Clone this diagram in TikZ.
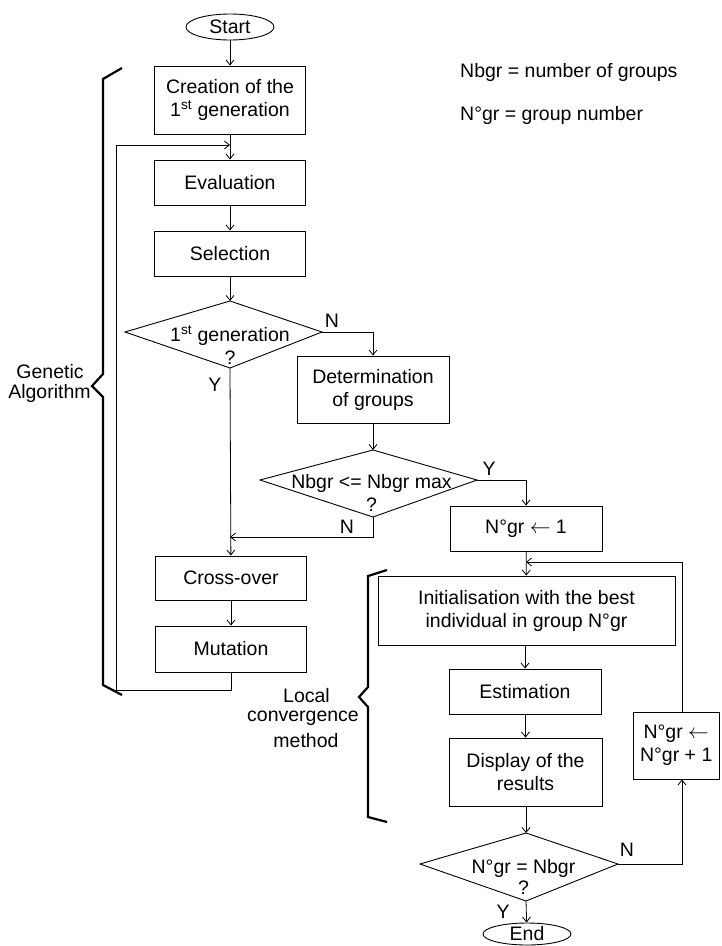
\documentclass[tikz,border=0pt]{standalone}
\usepackage{fontspec}
\setmainfont{Liberation Sans}
\usetikzlibrary{arrows.meta,shapes.geometric}
\newcommand{\larr}{\ensuremath{\leftarrow}}
\begin{document}
\begin{tikzpicture}[x=1pt,y=-1pt,
  font=\fontsize{19.5}{23}\selectfont,
  box/.style={draw,line width=0.9pt,rectangle,inner sep=0pt,align=center},
  term/.style={draw,line width=0.9pt,ellipse,inner sep=0pt,minimum width=88pt,minimum height=26pt},
  lbl/.style={inner sep=0pt,align=center},
  conn/.style={line width=0.8pt},
  arr/.style={line width=0.8pt,-{Straight Barb[length=5pt,width=8pt]}},
  brace/.style={line width=2.2pt,line join=miter}]
\useasboundingbox (0,0) rectangle (721,946);

% terminals
\node[term] (start) at (230,27) {Start};
\node[term,minimum height=22pt] (end) at (527,934) {End};

% column 1
\node[box,minimum width=151pt,minimum height=68pt] (create) at (230,100) {Creation of the\\1\textsuperscript{st} generation};
\node[box,minimum width=151pt,minimum height=45pt] (eval) at (230,182.5) {Evaluation};
\node[box,minimum width=151pt,minimum height=45pt] (sel) at (230,253.5) {Selection};
\node[box,minimum width=151pt,minimum height=44pt] (cross) at (231,578) {Cross-over};
\node[box,minimum width=151pt,minimum height=46pt] (mut) at (231,649) {Mutation};

% diamond 1
\coordinate (d1t) at (230,301);
\coordinate (d1l) at (125,332);
\coordinate (d1r) at (322,332);
\coordinate (d1b) at (230,368);
\draw[conn,line width=0.9pt] (d1t)--(d1r)--(d1b)--(d1l)--cycle;
\node[lbl] (d1txt) at (230,345) {1\textsuperscript{st} generation\\?};

% column 2
\node[box,minimum width=152pt,minimum height=67pt] (det) at (373,389.5) {Determination\\of groups};
\coordinate (d2t) at (373,450);
\coordinate (d2l) at (260,480);
\coordinate (d2r) at (477,480);
\coordinate (d2b) at (373,517);
\draw[conn,line width=0.9pt] (d2t)--(d2r)--(d2b)--(d2l)--cycle;
\node[lbl] (d2txt) at (371.5,493) {Nbgr <= Nbgr max\\?};

% column 3
\node[box,minimum width=152pt,minimum height=45pt] (ngr1) at (526,528.5) {N°gr \larr{} 1};
\node[box,minimum width=297pt,minimum height=69pt] (init) at (526.5,610.5) {Initialisation with the best\\individual in group N°gr};
\node[box,minimum width=152pt,minimum height=45pt] (est) at (525,691.5) {Estimation};
\node[box,minimum width=153pt,minimum height=68pt] (disp) at (525.5,772) {Display of the\\results};
\coordinate (d3t) at (526,833);
\coordinate (d3l) at (420,864);
\coordinate (d3r) at (618,864);
\coordinate (d3b) at (526,901);
\draw[conn,line width=0.9pt] (d3t)--(d3r)--(d3b)--(d3l)--cycle;
\node[lbl,font=\fontsize{19.5}{21}\selectfont] (d3txt) at (523.5,877) {N°gr = Nbgr\\?};
\node[box,minimum width=86.5pt,minimum height=67pt] (inc) at (676.25,745.5) {N°gr \larr\\N°gr + 1};

% legend
\node[lbl,anchor=west] (leg1) at (460,72) {Nbgr = number of groups};
\node[lbl,anchor=west] (leg2) at (460,115) {N°gr = group number};

% connectors column 1
\draw[arr] (start) -- (create);
\draw[arr] (create) -- (eval);
\draw[arr] (eval) -- (sel);
\draw[arr] (sel) -- (d1t);
\draw[arr] (d1b) -- (cross);
\draw[arr] (cross.south -| mut.north) -- (mut);
\coordinate (loopA) at (231,690);
\coordinate (loopB) at (116,690);
\coordinate (loopC) at (116,145);
\coordinate (loopD) at (230,145);
\draw[arr] (mut.south) -- (loopA) -- (loopB) -- (loopC) -- (loopD);

% d1 -> determination
\coordinate (n1) at (373,332);
\draw[arr] (d1r) -- (n1) -- (det.north);
\node[lbl] (lN1) at (332,321) {N};
\node[lbl] (lY1) at (215,385) {Y};

% determination -> d2
\draw[arr] (det) -- (d2t);
\coordinate (y2) at (526,480);
\draw[arr] (d2r) -- (y2) -- (ngr1.north);
\node[lbl] (lY2) at (489,469) {Y};
\coordinate (n2a) at (373,537);
\coordinate (n2b) at (230,537);
\draw[arr] (d2b) -- (n2a) -- (n2b);
\node[lbl] (lN2) at (347,527) {N};

% column 3 connectors
\draw[arr] (ngr1) -- (init);
\draw[arr] (init.south -| est.north) -- (est);
\draw[arr] (est.south -| disp.north) -- (disp);
\draw[arr] (disp.south -| d3t) -- (d3t);
\draw[arr] (d3b) -- (end);
\node[lbl] (lY3) at (503,912) {Y};
\coordinate (n3) at (682,864);
\draw[arr] (d3r) -- (n3) -- (inc.south -| n3);
\node[lbl] (lN3) at (627,850) {N};
\coordinate (r1) at (682,562);
\coordinate (r2) at (526,562);
\draw[arr] (inc.north -| r1) -- (r1) -- (r2);

% braces
\draw[brace] (122,68) -- (103,79) -- (103,374) -- (92,386) -- (103,397) -- (103,685) -- (122,695);
\node[lbl] (gen1) at (50,372) {Genetic};
\node[lbl] (gen2) at (49.5,393) {Algorithm};
\draw[brace] (387,570) -- (368,576) -- (368,687) -- (359,697) -- (368,707) -- (368,817) -- (387,822);
\node[lbl] (loc1) at (306.5,696) {Local};
\node[lbl] (loc2) at (303,718) {convergence};
\node[lbl] (loc3) at (306,741) {method};
\end{tikzpicture}
\end{document}
